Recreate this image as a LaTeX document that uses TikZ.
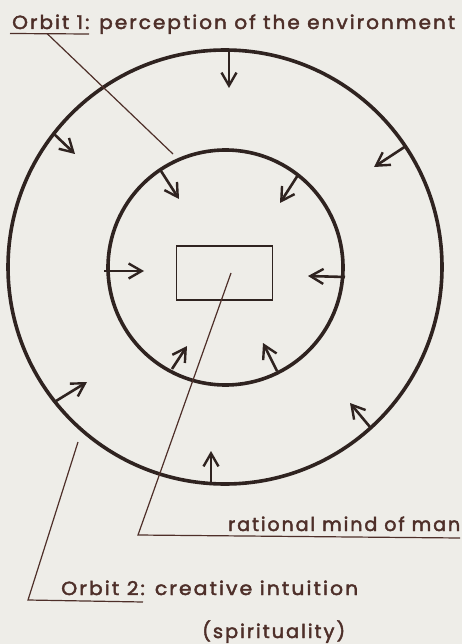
\documentclass[tikz,border=0pt]{standalone}
\usepackage{fontspec}
\usepackage{graphicx}
\setmainfont{Poppins}
\newfontfamily\lblfont[LetterSpace=10,FakeBold=2.2]{Poppins}
\usetikzlibrary{arrows.meta}
\definecolor{paper}{HTML}{EEEDE8}
\definecolor{ink}{HTML}{2F2320}
\definecolor{brownink}{HTML}{4E2F29}
\newcommand{\fitlbl}[2]{\resizebox{#1}{\height}{#2}}
\tikzset{
  orbit/.style={draw=ink, line width=3.6pt},
  corebox/.style={draw=ink, line width=1.9pt},
  inarrow/.style={draw=ink, line width=2.6pt, -{Straight Barb[length=13pt,width=15pt,line width=2.4pt]}},
  leader/.style={draw=brownink, line width=1.2pt},
  lbl/.style={anchor=base west, inner sep=0pt, text=brownink, font=\lblfont\fontsize{19}{22}\selectfont}
}
\begin{document}
\begin{tikzpicture}[x=1pt,y=-1pt]
\useasboundingbox[fill=paper] (0,0) rectangle (462,644);
% circles
\node (outer) [orbit, circle, minimum size=434pt, inner sep=0pt] at (225,267) {};
\node (inner) [orbit, circle, minimum size=235pt, inner sep=0pt] at (225.5,267.5) {};
\node (core) [corebox, minimum width=96pt, minimum height=54pt, inner sep=0pt] at (224.5,273) {};
% arrows outer
\draw[inarrow] (229,52) -- (229,88);
\draw[inarrow] (53,133) -- (75,154);
\draw[inarrow] (406,146) -- (374,167);
\draw[inarrow] (56,401) -- (87,382);
\draw[inarrow] (211,483) -- (211,451);
\draw[inarrow] (370,427) -- (350,403);
% arrows inner
\draw[inarrow] (161,171) -- (179,199);
\draw[inarrow] (298,175) -- (280,203);
\draw[inarrow] (104,271) -- (144,271);
\draw[inarrow] (345,277) -- (308,276);
\draw[inarrow] (172,369) -- (187,346);
\draw[inarrow] (277,371) -- (263,343);
% labels
\node (t1) [lbl] at (12,29) {\fitlbl{443pt}{Orbit 1: perception of the environment}};
\node (t2) [lbl] at (228,531) {\fitlbl{232pt}{rational mind of man}};
\node (t3) [lbl] at (61,595) {\fitlbl{297pt}{Orbit 2: creative intuition}};
\node (t4) [lbl] at (202,638) {\fitlbl{143pt}{(spirituality)}};
% leaders
\coordinate (u1a) at (10,33.5);
\coordinate (u1b) at (89,34);
\coordinate (u1m) at (47,33.5);
\coordinate (p1) at (173,154);
\draw[leader] (u1a) -- (u1b);
\draw[leader] (u1m) -- (p1);
\coordinate (p2) at (231,273);
\coordinate (k2) at (138,535);
\coordinate (e2) at (460,538);
\draw[leader] (p2) -- (k2) -- (e2);
\coordinate (p3) at (78,442);
\coordinate (k3) at (28,600);
\coordinate (e3) at (143,602);
\draw[leader] (p3) -- (k3) -- (e3);
\end{tikzpicture}
\end{document}
